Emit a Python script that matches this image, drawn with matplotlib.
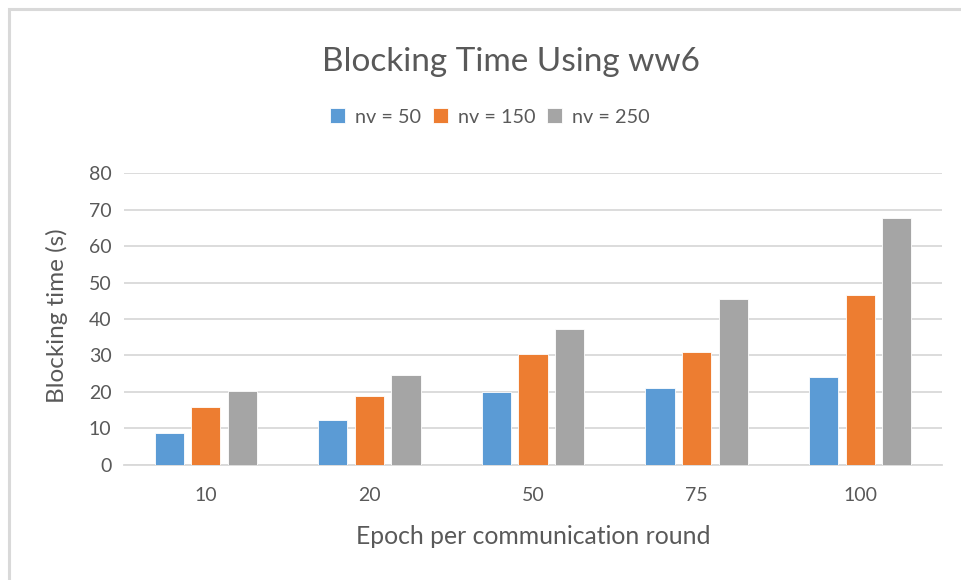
import matplotlib
matplotlib.use("Agg")
import matplotlib.pyplot as plt
from matplotlib.patches import Rectangle
import numpy as np

plt.rcParams['font.family'] = ['Lato', 'DejaVu Sans']

epochs = ['10', '20', '50', '75', '100']
series_names = ['nv = 50', 'nv = 150', 'nv = 250']
nv50 = [8.6, 12.2, 19.9, 20.9, 24.0]
nv150 = [15.7, 18.9, 30.4, 30.8, 46.5]
nv250 = [20.2, 24.5, 37.1, 45.5, 67.8]
yticks = [0, 10, 20, 30, 40, 50, 60, 70, 80]

colors = ['#5b9bd5', '#ed7d31', '#a5a5a5']
text_color = '#595959'
grid_color = '#d9d9d9'

fig = plt.figure(figsize=(9.61, 5.8), dpi=100)
W, H = 961, 580

# chart frame (Excel style border)
fig.patches.append(Rectangle((9 / W, -0.05), 1.2, (580 - 9) / 580 + 0.05,
                             transform=fig.transFigure, fill=False,
                             edgecolor='#d9d9d9', linewidth=2.2))

ax = fig.add_axes([124 / W, 1 - 464.5 / H, (942 - 124) / W, (464.5 - 173.3) / H])

x = np.arange(len(epochs))
width = 0.178
step = 0.224
for i, (vals, name) in enumerate(zip([nv50, nv150, nv250], series_names)):
    ax.bar(x + (i - 1) * step, vals, width, color=colors[i], label=name,
           edgecolor='white', linewidth=0.6, zorder=3)

ax.set_xlim(-0.5, len(epochs) - 0.5)
ax.set_ylim(0, 80)
ax.set_yticks(yticks)
ax.set_xticks(x)
ax.set_xticklabels(epochs)
ax.yaxis.grid(True, color=grid_color, linewidth=1.3, zorder=0)
ax.set_axisbelow(True)
for s in ['top', 'right', 'left']:
    ax.spines[s].set_visible(False)
ax.spines['bottom'].set_color(grid_color)
ax.spines['bottom'].set_linewidth(1.3)
ax.tick_params(axis='both', length=0, labelsize=14, colors=text_color, pad=9)
ax.tick_params(axis='x', pad=16)

fig.text(57 / W, 1 - 316 / H, 'Blocking time (s)', rotation=90, ha='center', va='center',
         fontsize=17.5, color=text_color)
fig.text(533 / W, 1 - 537 / H, 'Epoch per communication round', ha='center', va='center',
         fontsize=17.8, color=text_color)

fig.text(511 / W, 1 - 62 / H, 'Blocking Time Using ww6', ha='center', va='center',
         fontsize=24, color=text_color)

leg = ax.legend(loc='center', bbox_to_anchor=(490 / W, 1 - 117 / H),
                bbox_transform=fig.transFigure, ncol=3, frameon=False,
                fontsize=14.3, handlelength=0.75, handleheight=0.75,
                handletextpad=0.5, columnspacing=0.6)
for t in leg.get_texts():
    t.set_color(text_color)

fig.savefig('out.png', dpi=100)
